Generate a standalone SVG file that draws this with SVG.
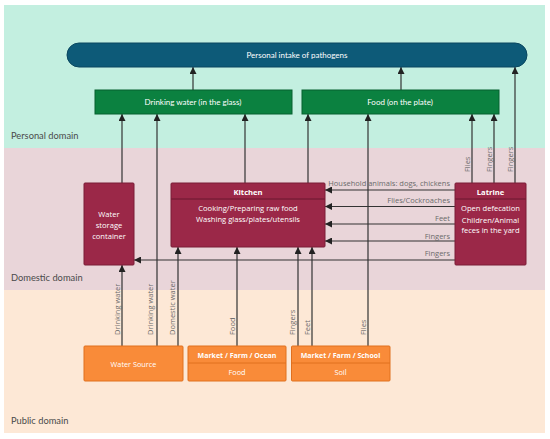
<svg xmlns="http://www.w3.org/2000/svg" width="550" height="439" viewBox="0 0 550 439">
<defs>
<marker id="ah" viewBox="0 0 10 10" refX="10" refY="5" markerWidth="7" markerHeight="7" markerUnits="userSpaceOnUse" orient="auto">
<path d="M0,0 L10,5 L0,10 z" fill="#222"/>
</marker>
</defs>
<style>
.dom{font-family:Lato,"Open Sans",sans-serif;font-size:9.3px;fill:#4a4a4a}
.lbl{font-family:"Open Sans","Noto Sans",sans-serif;font-size:7.5px;fill:#6b6b6b}
.wt{font-family:"Open Sans","Noto Sans",sans-serif;font-size:7.6px;fill:#fff;text-anchor:middle}
.lt{font-family:Lato,"Open Sans",sans-serif;font-size:8px;fill:#fff;text-anchor:middle}
.wb{font-family:"Open Sans","Noto Sans",sans-serif;font-size:7.6px;fill:#fff;text-anchor:middle;font-weight:bold}
.ln{fill:none;stroke:#333;stroke-width:1.2}
.ar{fill:none;stroke:#333;stroke-width:1.2;marker-end:url(#ah)}
.mar{fill:#9b2848;stroke:#7a1c37;stroke-width:1}
.grn{fill:#0b8140;stroke:#07612f;stroke-width:1}
.org{fill:#f98b39;stroke:#e0701f;stroke-width:1}
</style>
<rect x="4" y="5" width="541" height="143" fill="#c3efe0"/>
<rect x="4" y="148" width="541" height="142" fill="#e9d5d9"/>
<rect x="4" y="290" width="541" height="143" fill="#fde8d6"/>
<text class="dom" x="11" y="138.5">Personal domain</text>
<text class="dom" x="11" y="281">Domestic domain</text>
<text class="dom" x="11" y="424">Public domain</text>

<g id="connectors">
<line class="ar" x1="193" y1="90" x2="193" y2="67"/>
<line class="ar" x1="401" y1="90" x2="401" y2="67"/>
<line class="ar" x1="515" y1="183" x2="515" y2="67"/>
<line class="ar" x1="122" y1="183" x2="122" y2="114"/>
<line class="ar" x1="157" y1="346" x2="157" y2="114"/>
<line class="ar" x1="245" y1="183" x2="245" y2="114"/>
<line class="ar" x1="308" y1="183" x2="308" y2="114"/>
<line class="ar" x1="368" y1="346" x2="368" y2="114"/>
<line class="ar" x1="472" y1="183" x2="472" y2="114"/>
<line class="ar" x1="494" y1="183" x2="494" y2="114"/>
<line class="ar" x1="455" y1="190" x2="325" y2="190"/>
<line class="ar" x1="455" y1="206.5" x2="325" y2="206.5"/>
<line class="ar" x1="455" y1="224" x2="325" y2="224"/>
<line class="ar" x1="455" y1="241" x2="325" y2="241"/>
<line class="ar" x1="455" y1="260" x2="134" y2="260"/>
<line class="ar" x1="122" y1="346" x2="122" y2="265"/>
<line class="ar" x1="178" y1="346" x2="178" y2="247"/>
<line class="ar" x1="237" y1="346" x2="237" y2="247"/>
<line class="ar" x1="298" y1="346" x2="298" y2="247"/>
<line class="ar" x1="312" y1="346" x2="312" y2="247"/>
<text class="lbl" transform="translate(120,335) rotate(-90)">Drinking water</text>
<text class="lbl" transform="translate(153,335) rotate(-90)">Drinking water</text>
<text class="lbl" transform="translate(175,335) rotate(-90)">Domestic water</text>
<text class="lbl" transform="translate(235,335) rotate(-90)">Food</text>
<text class="lbl" transform="translate(295,335) rotate(-90)">Fingers</text>
<text class="lbl" transform="translate(310,335) rotate(-90)">Feet</text>
<text class="lbl" transform="translate(366,335) rotate(-90)">Flies</text>
<text class="lbl" transform="translate(470,172) rotate(-90)">Flies</text>
<text class="lbl" transform="translate(492,172) rotate(-90)">Fingers</text>
<text class="lbl" transform="translate(513,172) rotate(-90)">Fingers</text>
<text class="lbl" x="450" y="186" text-anchor="end">Household animals: dogs, chickens</text>
<text class="lbl" x="450" y="203" text-anchor="end">Flies/Cockroaches</text>
<text class="lbl" x="450" y="221" text-anchor="end">Feet</text>
<text class="lbl" x="450" y="239" text-anchor="end">Fingers</text>
<text class="lbl" x="450" y="256" text-anchor="end">Fingers</text>
</g>

<g id="intake">
<rect x="67" y="43" width="460" height="24" rx="12" fill="#0d5a78" stroke="#0a4760" stroke-width="1"/>
<text class="lt" x="297" y="58">Personal intake of pathogens</text>
</g>
<g id="drinking-water">
<rect class="grn" x="95" y="90" width="197" height="24"/>
<text class="lt" x="193" y="105">Drinking water (in the glass)</text>
</g>
<g id="food-plate">
<rect class="grn" x="302" y="90" width="197" height="24"/>
<text class="lt" x="400" y="105">Food (on the plate)</text>
</g>
<g id="water-storage">
<rect class="mar" x="84" y="183" width="50" height="82" rx="1"/>
<text class="wt" x="109" y="217">Water</text>
<text class="wt" x="109" y="228">storage</text>
<text class="wt" x="109" y="238.5">container</text>
</g>
<g id="kitchen">
<rect class="mar" x="171" y="183" width="154" height="64" rx="1"/>
<line x1="171" y1="199" x2="325" y2="199" stroke="#7a1c37" stroke-width="1.5"/>
<text class="wb" x="248" y="194.5">Kitchen</text>
<text class="wt" x="248" y="211">Cooking/Preparing raw food</text>
<text class="wt" x="248" y="221.5">Washing glass/plates/utensils</text>
</g>
<g id="latrine">
<rect class="mar" x="455" y="183" width="71" height="82" rx="1"/>
<line x1="455" y1="199" x2="526" y2="199" stroke="#7a1c37" stroke-width="1.5"/>
<text class="wb" x="490.5" y="194.5">Latrine</text>
<text class="wt" x="490.5" y="211">Open defecation</text>
<text class="wt" x="490.5" y="222.5">Children/Animal</text>
<text class="wt" x="490.5" y="233">feces in the yard</text>
</g>
<g id="water-source">
<rect class="org" x="84" y="346" width="99" height="35" rx="1"/>
<text class="wt" x="133.5" y="366.5" style="font-size:7.3px">Water Source</text>
</g>
<g id="market-food">
<rect class="org" x="188" y="346" width="98" height="35" rx="1"/>
<line x1="188" y1="363" x2="286" y2="363" stroke="#e0701f" stroke-width="1"/>
<text class="wb" x="237" y="358" style="font-size:7px">Market / Farm / Ocean</text>
<text class="wt" x="237" y="375" style="font-size:7.3px">Food</text>
</g>
<g id="market-soil">
<rect class="org" x="291.5" y="346" width="98.5" height="35" rx="1"/>
<line x1="291.5" y1="363" x2="390" y2="363" stroke="#e0701f" stroke-width="1"/>
<text class="wb" x="340.5" y="358" style="font-size:7px">Market / Farm / School</text>
<text class="wt" x="340.5" y="375" style="font-size:7.3px">Soil</text>
</g>
</svg>
